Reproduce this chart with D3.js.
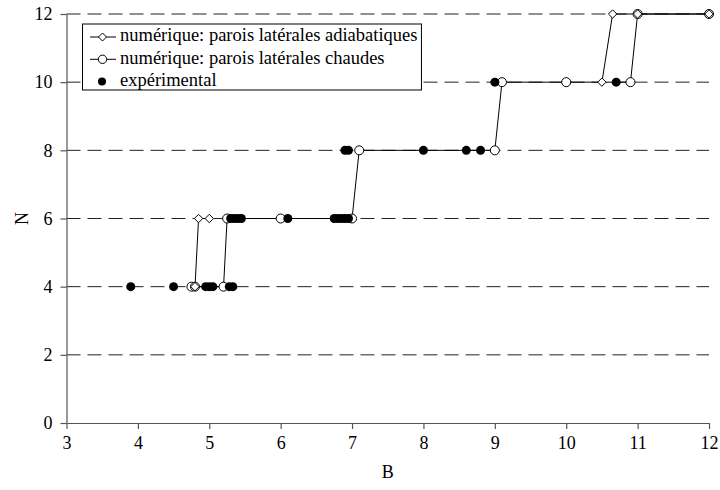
<!DOCTYPE html>
<html>
<head>
<meta charset="utf-8">
<script src="https://cdn.jsdelivr.net/npm/d3@7"></script>
<style>
  body { margin: 0; background: #fff; }
</style>
</head>
<body>
<div id="chart"></div>
<script>
// numérique: parois latérales adiabatiques (null = gap in the line)
const adiabB = [4.8, 4.85, 5.0, null, 10.5, 10.65, 11.0, 12.0];
const adiabN = [4, 6, 6, null, 10, 12, 12, 12];

// numérique: parois latérales chaudes
const chaudB = [4.75, 4.8, 5.2, 5.25, 6.0, 7.0, 7.1, 9.0, 9.1, 10.0, 10.9, 11.0, 12.0];
const chaudN = [4, 4, 4, 6, 6, 6, 8, 8, 10, 10, 10, 12, 12];

// expérimental
const expB = [3.9, 4.5, 4.95, 5.0, 5.05, 5.28, 5.33,
              5.3, 5.35, 5.4, 5.45, 6.1, 6.75, 6.8, 6.85, 6.9, 6.95,
              6.9, 6.95, 8.0, 8.6, 8.8,
              9.0, 10.7];
const expN = [4, 4, 4, 4, 4, 4, 4,
              6, 6, 6, 6, 6, 6, 6, 6, 6, 6,
              8, 8, 8, 8, 8,
              10, 10];

const xTicks = [3, 4, 5, 6, 7, 8, 9, 10, 11, 12];
const yTicks = [0, 2, 4, 6, 8, 10, 12];

const legendLabels = [
    'numérique: parois latérales adiabatiques',
    'numérique: parois latérales chaudes',
    'expérimental'
];

const serif = '"Liberation Serif", "Times New Roman", Times, "DejaVu Serif", serif';

const svgWidth = 720;
const svgHeight = 490;
const margin = { top: 14, right: 11, bottom: 67, left: 66.5 };
const width = svgWidth - margin.left - margin.right;
const height = svgHeight - margin.top - margin.bottom;

const svg = d3.select('#chart')
    .append('svg')
    .attr('width', svgWidth)
    .attr('height', svgHeight)
    .attr('font-family', serif);

const bounds = svg.append('g')
    .attr('transform', `translate(${margin.left}, ${margin.top})`);

const xScale = d3.scaleLinear().domain([3, 12]).range([0, width]);
const yScale = d3.scaleLinear().domain([0, 12]).range([height, 0]);

// dashed gridlines
bounds.append('g')
    .selectAll('line')
    .data(yTicks.filter(d => d > 0))
    .join('line')
    .attr('x1', 0)
    .attr('x2', width)
    .attr('y1', d => yScale(d))
    .attr('y2', d => yScale(d))
    .attr('stroke', '#222')
    .attr('stroke-width', 1)
    .attr('stroke-dasharray', '14,7');

const xAxisGroup = bounds.append('g')
    .attr('transform', `translate(0, ${height})`)
    .call(d3.axisBottom(xScale)
        .tickValues(xTicks)
        .tickSize(6)
        .tickSizeOuter(0)
        .tickPadding(7)
        .tickFormat(d => d));

const yAxisGroup = bounds.append('g')
    .call(d3.axisLeft(yScale)
        .tickValues(yTicks)
        .tickSize(6)
        .tickSizeOuter(0)
        .tickPadding(8)
        .tickFormat(d => d));

[xAxisGroup, yAxisGroup].forEach(g => {
    g.attr('font-family', serif).attr('font-size', 18);
    g.selectAll('path, line').attr('stroke', '#555').attr('stroke-width', 1.2);
    g.selectAll('text').attr('fill', '#000');
});

bounds.append('text')
    .attr('x', width / 2)
    .attr('y', height + 55)
    .attr('text-anchor', 'middle')
    .attr('font-size', 18)
    .text('B');

bounds.append('text')
    .attr('transform', `translate(${22 - margin.left}, ${yScale(6)}) rotate(-90)`)
    .attr('text-anchor', 'middle')
    .attr('dy', '0.35em')
    .attr('font-size', 18)
    .text('N');

const zip = (bs, ns) => bs.map((b, i) => ({ b, n: ns[i] }));
const adiab = zip(adiabB, adiabN);
const chaud = zip(chaudB, chaudN);
const exp = zip(expB, expN);

const line = d3.line()
    .defined(d => d.b !== null)
    .x(d => xScale(d.b))
    .y(d => yScale(d.n));

const diamond = r => `M0,${-r}L${r},0L0,${r}L${-r},0Z`;

// lines
bounds.append('path')
    .datum(chaud)
    .attr('d', line)
    .attr('fill', 'none')
    .attr('stroke', '#000')
    .attr('stroke-width', 1);

bounds.append('path')
    .datum(adiab)
    .attr('d', line)
    .attr('fill', 'none')
    .attr('stroke', '#000')
    .attr('stroke-width', 1);

// markers
bounds.append('g')
    .selectAll('circle')
    .data(chaud)
    .join('circle')
    .attr('cx', d => xScale(d.b))
    .attr('cy', d => yScale(d.n))
    .attr('r', 4.5)
    .attr('fill', '#fff')
    .attr('stroke', '#000')
    .attr('stroke-width', 1);

bounds.append('g')
    .selectAll('path')
    .data(adiab.filter(d => d.b !== null))
    .join('path')
    .attr('transform', d => `translate(${xScale(d.b)}, ${yScale(d.n)})`)
    .attr('d', diamond(4.2))
    .attr('fill', '#fff')
    .attr('stroke', '#000')
    .attr('stroke-width', 1);

bounds.append('g')
    .selectAll('circle')
    .data(exp)
    .join('circle')
    .attr('cx', d => xScale(d.b))
    .attr('cy', d => yScale(d.n))
    .attr('r', 4.5)
    .attr('fill', '#000');

// legend
const legend = svg.append('g');
const legendBox = legend.append('rect')
    .attr('x', 82.5)
    .attr('y', 24)
    .attr('height', 66)
    .attr('fill', '#fff')
    .attr('stroke', '#000')
    .attr('stroke-width', 1);

const rowY = [37, 59.3, 81.5];
let maxEnd = 0;
legendLabels.forEach((label, i) => {
    const y = rowY[i];
    if (i < 2) {
        legend.append('line')
            .attr('x1', 90).attr('x2', 116)
            .attr('y1', y).attr('y2', y)
            .attr('stroke', '#000');
    }
    if (i === 0) {
        legend.append('path')
            .attr('transform', `translate(102.5, ${y})`)
            .attr('d', diamond(4))
            .attr('fill', '#fff').attr('stroke', '#000');
    } else if (i === 1) {
        legend.append('circle')
            .attr('cx', 102.5).attr('cy', y).attr('r', 4.2)
            .attr('fill', '#fff').attr('stroke', '#000');
    } else {
        legend.append('circle')
            .attr('cx', 102).attr('cy', y).attr('r', 4)
            .attr('fill', '#000');
    }
    const t = legend.append('text')
        .attr('x', 120)
        .attr('y', y + 4.3)
        .attr('font-size', 18.5)
        .text(label);
    maxEnd = Math.max(maxEnd, 120 + t.node().getComputedTextLength());
});
legendBox.attr('width', maxEnd + 4 - 82.5);
</script>
</body>
</html>
